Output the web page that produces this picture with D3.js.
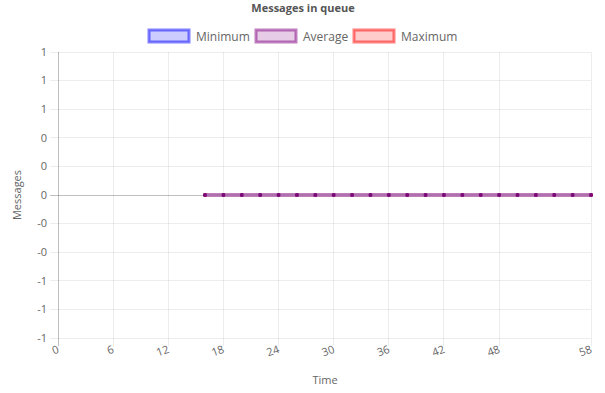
<!DOCTYPE html>
<html><head><meta charset="utf-8">
<script src="https://cdn.jsdelivr.net/npm/d3@7"></script>
<style>
html,body{margin:0;padding:0;background:#fff;}
svg{display:block;font-family:"Open Sans","Noto Sans",sans-serif;}
</style></head>
<body>
<svg id="chart" width="605" height="393"></svg>
<script>
const times = [16,18,20,22,24,26,28,30,32,34,36,38,40,42,44,46,48,50,52,54,56,58];
const minimumValues = [0,0,0,0,0,0,0,0,0,0,0,0,0,0,0,0,0,0,0,0,0,0];
const averageValues = [0,0,0,0,0,0,0,0,0,0,0,0,0,0,0,0,0,0,0,0,0,0];
const maximumValues = [0,0,0,0,0,0,0,0,0,0,0,0,0,0,0,0,0,0,0,0,0,0];
const seriesNames = ["Minimum","Average","Maximum"];
const xTickValues = [0,6,12,18,24,30,36,42,48,58];
const yTickValues = [-1,-0.8,-0.6,-0.4,-0.2,0,0.2,0.4,0.6,0.8,1];
const yTickLabels = ["-1","-1","-1","-0","-0","0","0","0","1","1","1"];

const svg = d3.select("#chart");
const x = d3.scaleLinear().domain([0,58]).range([58,591]);
const y = d3.scaleLinear().domain([-1,1]).range([338,52]);
const textColor = "#666";

// title
svg.append("text").attr("x",303).attr("y",12).attr("text-anchor","middle")
  .attr("font-size",11).attr("font-weight","bold").attr("fill","#555").text("Messages in queue");

// legend
const series = [
  {name:seriesNames[0], values:minimumValues, fill:"rgba(0,0,255,0.2)", stroke:"rgba(0,0,255,0.5)", line:"rgba(0,0,255,0.5)", point:"rgba(0,0,255,0.8)"},
  {name:seriesNames[1], values:averageValues, fill:"rgba(128,0,128,0.2)", stroke:"rgba(128,0,128,0.5)", line:"#b070b0", point:"#7a0a7a"},
  {name:seriesNames[2], values:maximumValues, fill:"rgba(255,0,0,0.2)", stroke:"rgba(255,0,0,0.5)", line:"rgba(255,0,0,0.5)", point:"rgba(255,0,0,0.8)"}
];
const legendX = [149,256,354];
series.forEach((s,i)=>{
  const g = svg.append("g").attr("transform",`translate(${legendX[i]},30)`);
  g.append("rect").attr("x",0).attr("y",0).attr("width",40).attr("height",12)
    .attr("fill",s.fill).attr("stroke",s.stroke).attr("stroke-width",3);
  g.append("text").attr("x",47).attr("y",10.5).attr("font-size",12).attr("fill",textColor).text(s.name);
});

// horizontal grid
svg.append("g").selectAll("line").data(yTickValues).join("line")
  .attr("x1",50).attr("x2",591).attr("y1",d=>y(d)).attr("y2",d=>y(d))
  .attr("stroke",d=>d===0?"rgba(0,0,0,0.25)":"rgba(0,0,0,0.07)").attr("stroke-width",1)
  .attr("shape-rendering","crispEdges");
// vertical grid
svg.append("g").selectAll("line").data(xTickValues).join("line")
  .attr("x1",d=>x(d)).attr("x2",d=>x(d)).attr("y1",52).attr("y2",346)
  .attr("stroke",d=>d===0?"rgba(0,0,0,0.25)":"rgba(0,0,0,0.07)").attr("stroke-width",1)
  .attr("shape-rendering","crispEdges");

// y tick labels
svg.append("g").selectAll("text").data(yTickValues).join("text")
  .attr("x",47).attr("y",d=>y(d)).attr("dy","0.35em").attr("text-anchor","end")
  .attr("font-size",11).attr("fill",textColor).text((d,i)=>yTickLabels[i]);
// x tick labels
svg.append("g").selectAll("text").data(xTickValues).join("text")
  .attr("transform",d=>`translate(${x(d)-1},345) rotate(-20)`).attr("dy","0.7em").attr("text-anchor","end")
  .attr("font-size",11).attr("fill",textColor).text(d=>d);

// axis titles
svg.append("text").attr("transform","translate(21,195) rotate(-90)").attr("text-anchor","middle")
  .attr("font-size",11).attr("fill",textColor).text("Messages");
svg.append("text").attr("x",325).attr("y",384).attr("text-anchor","middle")
  .attr("font-size",11).attr("fill",textColor).text("Time");

// series (Average drawn last, on top)
const line = d3.line().x((d,i)=>x(times[i])).y(d=>y(d));
[series[0],series[2],series[1]].forEach(s=>{
  svg.append("path").datum(s.values).attr("d",line).attr("fill","none")
    .attr("stroke",s.line).attr("stroke-width",3);
  svg.append("g").selectAll("circle").data(s.values).join("circle")
    .attr("cx",(d,i)=>x(times[i])).attr("cy",d=>y(d)).attr("r",2)
    .attr("fill",s.point);
});
</script>
</body></html>
